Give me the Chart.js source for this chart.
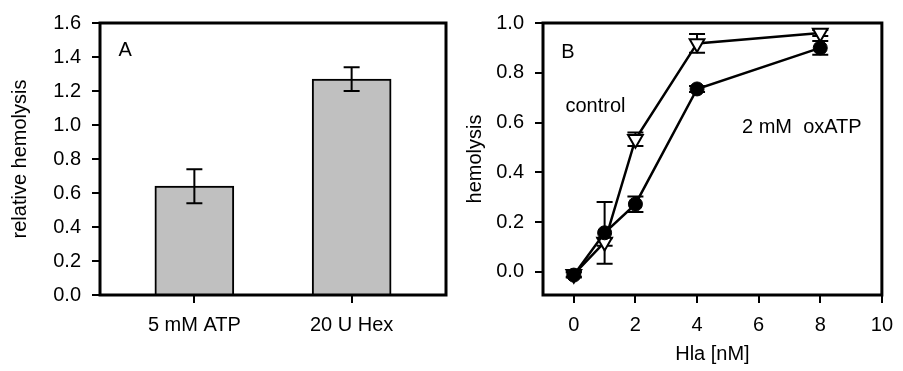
<!DOCTYPE html>
<html>
<head>
<meta charset="utf-8">
<script src="https://cdn.jsdelivr.net/npm/chart.js@4.4.1/dist/chart.umd.min.js"></script>
<style>
  html, body { margin: 0; padding: 0; background: #fff; }
  #wrapA { position: absolute; left: 0; top: 0; width: 455px; height: 371px; }
  #wrapB { position: absolute; left: 455px; top: 0; width: 448px; height: 371px; }
</style>
</head>
<body>
<div id="wrapA"><canvas id="chartA"></canvas></div>
<div id="wrapB"><canvas id="chartB"></canvas></div>
<script>
// panel A - relative hemolysis
var treatments = ["5 mM ATP", "20 U Hex"];
var relHemolysis = [0.64, 1.27];
var relHemolysisErr = [0.10, 0.07];
var yTicksA = [0, 0.2, 0.4, 0.6, 0.8, 1.0, 1.2, 1.4, 1.6];

// panel B - hemolysis vs Hla
var hlaConc = [0, 1, 2, 4, 8];
var controlHemolysis = [-0.01, 0.12, 0.533, 0.918, 0.96];
var controlErr = [0.01, 0.015, 0.027, 0.038, 0.012];
var oxAtpHemolysis = [-0.013, 0.157, 0.272, 0.735, 0.90];
var oxAtpErr = [0.01, 0.124, 0.031, 0.012, 0.028];
var xTicksB = [0, 2, 4, 6, 8, 10];
var yTicksB = [0, 0.2, 0.4, 0.6, 0.8, 1.0];

var FONT = "'Liberation Sans', Arial, sans-serif";
Chart.defaults.font.family = FONT;
Chart.defaults.font.size = 20;
Chart.defaults.color = "#000";

// box around the plot area
var framePlugin = {
  id: "frame",
  afterDraw: function (chart) {
    var a = chart.chartArea, ctx = chart.ctx;
    ctx.save();
    ctx.strokeStyle = "#000";
    ctx.lineWidth = 3;
    ctx.strokeRect(a.left, a.top, a.right - a.left, a.bottom - a.top);
    ctx.restore();
  }
};

function drawErrorBars(chart) {
  var ctx = chart.ctx, xs = chart.scales.x, ys = chart.scales.y;
  ctx.save();
  ctx.strokeStyle = "#000";
  ctx.lineWidth = 2;
  chart.data.datasets.forEach(function (ds) {
    if (!ds.errors) return;
    ds.data.forEach(function (p, i) {
      var e = ds.errors[i];
      var px = xs.getPixelForValue(p.x);
      var top = ys.getPixelForValue(p.y + e);
      var bot = ys.getPixelForValue(p.y - e);
      ctx.beginPath();
      ctx.moveTo(px, top); ctx.lineTo(px, bot);
      ctx.moveTo(px - 8, top); ctx.lineTo(px + 8, top);
      ctx.moveTo(px - 8, bot); ctx.lineTo(px + 8, bot);
      ctx.stroke();
    });
  });
  ctx.restore();
}

// text labels placed in data coordinates
function drawNotes(chart, notes) {
  var ctx = chart.ctx, xs = chart.scales.x, ys = chart.scales.y;
  ctx.save();
  ctx.font = "20px " + FONT;
  ctx.fillStyle = "#000";
  ctx.textAlign = "left";
  ctx.textBaseline = "middle";
  notes.forEach(function (n) {
    ctx.fillText(n.text, xs.getPixelForValue(n.x), ys.getPixelForValue(n.y));
  });
  ctx.restore();
}

function tickOpts(extra) {
  var o = {
    grid: { drawOnChartArea: false, drawTicks: true, tickLength: 8, color: "#000", lineWidth: 2, offset: false },
    border: { display: false }
  };
  for (var k in extra) o[k] = extra[k];
  return o;
}

// ---- chart A ----
new Chart(document.getElementById("chartA").getContext("2d"), {
  type: "bar",
  data: {
    datasets: [{
      data: relHemolysis.map(function (v, i) { return { x: i, y: v }; }),
      errors: relHemolysisErr,
      backgroundColor: "#c0c0c0",
      borderColor: "#000",
      borderWidth: 2,
      borderSkipped: "start",
      barThickness: 79
    }]
  },
  options: {
    responsive: true,
    maintainAspectRatio: false,
    animation: false,
    layout: { padding: { top: 22, right: 9, bottom: 0, left: 0 } },
    plugins: { legend: { display: false }, tooltip: { enabled: false } },
    scales: {
      x: tickOpts({
        type: "linear",
        min: -0.6,
        max: 1.6,
        offset: false,
        afterBuildTicks: function (s) { s.ticks = [0, 1].map(function (v) { return { value: v }; }); },
        afterFit: function (s) { s.height = 76; },
        ticks: { padding: 10, maxRotation: 0, callback: function (v) { return treatments[v]; } }
      }),
      y: tickOpts({
        min: 0,
        max: 1.6,
        afterBuildTicks: function (s) { s.ticks = yTicksA.map(function (v) { return { value: v }; }); },
        afterFit: function (s) { s.width = 100; },
        ticks: { padding: 11, callback: function (v) { return v.toFixed(1); } },
        title: { display: true, text: "relative hemolysis", padding: { top: 8, bottom: 0 } }
      })
    }
  },
  plugins: [framePlugin, {
    id: "extrasA",
    afterDatasetsDraw: function (chart) { drawErrorBars(chart); },
    afterDraw: function (chart) { drawNotes(chart, [{ text: "A", x: -0.483, y: 1.44 }]); }
  }]
});

// ---- chart B ----
function pts(ys) { return hlaConc.map(function (x, i) { return { x: x, y: ys[i] }; }); }

new Chart(document.getElementById("chartB").getContext("2d"), {
  type: "line",
  data: {
    datasets: [
      {
        label: "2 mM oxATP",
        data: pts(oxAtpHemolysis),
        errors: oxAtpErr,
        borderColor: "#000",
        borderWidth: 2.5,
        tension: 0,
        pointStyle: "circle",
        pointRadius: 7,
        pointBackgroundColor: "#000",
        pointBorderColor: "#000",
        pointBorderWidth: 1
      },
      {
        label: "control",
        data: pts(controlHemolysis),
        errors: controlErr,
        borderColor: "#000",
        borderWidth: 2.5,
        tension: 0,
        pointStyle: "triangle",
        pointRotation: 180,
        pointRadius: 8.5,
        pointBackgroundColor: "#fff",
        pointBorderColor: "#000",
        pointBorderWidth: 2
      }
    ]
  },
  options: {
    responsive: true,
    maintainAspectRatio: false,
    animation: false,
    layout: { padding: { top: 22, right: 13, bottom: 0, left: 0 } },
    plugins: { legend: { display: false }, tooltip: { enabled: false } },
    scales: {
      x: tickOpts({
        type: "linear",
        min: -1,
        max: 10,
        afterBuildTicks: function (s) { s.ticks = xTicksB.map(function (v) { return { value: v }; }); },
        afterFit: function (s) { s.height = 76; },
        ticks: { padding: 10, maxRotation: 0, callback: function (v) { return String(v); } },
        title: { display: true, text: "Hla [nM]", padding: { top: 0, bottom: 5 } }
      }),
      y: tickOpts({
        min: -0.093,
        max: 1.0,
        afterBuildTicks: function (s) { s.ticks = yTicksB.map(function (v) { return { value: v }; }); },
        afterFit: function (s) { s.width = 88; },
        ticks: { padding: 11, callback: function (v) { return v.toFixed(1); } },
        title: { display: true, text: "hemolysis", padding: { top: 8, bottom: 0 } }
      })
    }
  },
  plugins: [framePlugin, {
    id: "extrasB",
    beforeDatasetsDraw: function (chart) { drawErrorBars(chart); },
    afterDraw: function (chart) {
      drawNotes(chart, [
        { text: "B", x: -0.41, y: 0.88 },
        { text: "control", x: -0.27, y: 0.664 },
        { text: "2 mM  oxATP", x: 5.46, y: 0.581 }
      ]);
    }
  }]
});
</script>
</body>
</html>
